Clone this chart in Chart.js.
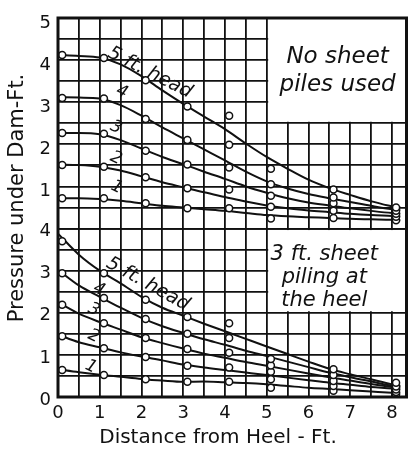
<!DOCTYPE html>
<html>
<head>
<meta charset="utf-8">
<script src="https://cdn.jsdelivr.net/npm/chart.js@4.4.1/dist/chart.umd.min.js"></script>
<style>
  html, body { margin: 0; padding: 0; background: #fff; }
</style>
</head>
<body>
<canvas id="myChart" width="412" height="451"></canvas>
<script>
// distances from heel where the readings were plotted (ft)
let pointX = [0.1, 1.1, 2.1, 3.1, 4.1, 5.1, 6.6, 8.1];
// distances used to trace the faired curves
let curveX = [0, 0.5, 1, 1.5, 2, 2.5, 3, 3.5, 4, 4.5, 5, 5.5, 6, 6.5, 7, 7.5, 8, 8.2];

// tick labels
let xLabels = [0, 1, 2, 3, 4, 5, 6, 7, 8];
let yTopLabels = [1, 2, 3, 4, 5];
let yBotLabels = [0, 1, 2, 3, 4];

// no sheet piles used - readings
let topPts5 = [4.12, 4.05, 3.52, 2.9, 2.68, 1.42, 0.93, 0.5];
let topPts4 = [3.1, 3.09, 2.6, 2.1, 1.99, 1.05, 0.74, 0.42];
let topPts3 = [2.27, 2.25, 1.85, 1.52, 1.45, 0.78, 0.6, 0.35];
let topPts2 = [1.51, 1.47, 1.22, 0.96, 0.93, 0.52, 0.42, 0.28];
let topPts1 = [0.72, 0.72, 0.6, 0.48, 0.48, 0.24, 0.25, 0.2];
// no sheet piles used - curves
let topCurve5 = [4.12, 4.1, 4.06, 3.9, 3.62, 3.28, 2.96, 2.66, 2.36, 2.02, 1.7, 1.42, 1.16, 0.96, 0.8, 0.65, 0.53, 0.51];
let topCurve4 = [3.12, 3.11, 3.09, 2.93, 2.68, 2.4, 2.14, 1.88, 1.62, 1.35, 1.12, 0.95, 0.82, 0.72, 0.63, 0.54, 0.46, 0.44];
let topCurve3 = [2.27, 2.27, 2.24, 2.1, 1.9, 1.7, 1.53, 1.35, 1.18, 1.0, 0.85, 0.72, 0.62, 0.55, 0.48, 0.42, 0.37, 0.36];
let topCurve2 = [1.52, 1.51, 1.47, 1.38, 1.24, 1.1, 0.98, 0.86, 0.75, 0.64, 0.55, 0.48, 0.43, 0.39, 0.35, 0.32, 0.3, 0.29];
let topCurve1 = [0.72, 0.72, 0.7, 0.66, 0.6, 0.54, 0.5, 0.46, 0.42, 0.37, 0.32, 0.29, 0.27, 0.25, 0.23, 0.22, 0.21, 0.2];

// 3 ft sheet piling at the heel - readings
let botPts5 = [3.7, 2.94, 2.31, 1.9, 1.75, 0.9, 0.66, 0.34];
let botPts4 = [2.94, 2.35, 1.85, 1.5, 1.4, 0.75, 0.52, 0.25];
let botPts3 = [2.19, 1.75, 1.4, 1.14, 1.05, 0.6, 0.38, 0.18];
let botPts2 = [1.44, 1.16, 0.95, 0.74, 0.7, 0.42, 0.26, 0.12];
let botPts1 = [0.64, 0.52, 0.42, 0.36, 0.36, 0.22, 0.15, 0.06];
// 3 ft sheet piling at the heel - curves
let botCurve5 = [3.88, 3.38, 3.0, 2.7, 2.38, 2.12, 1.93, 1.74, 1.56, 1.38, 1.2, 1.02, 0.84, 0.67, 0.54, 0.42, 0.3, 0.27];
let botCurve4 = [3.02, 2.65, 2.38, 2.12, 1.88, 1.68, 1.52, 1.37, 1.24, 1.1, 0.97, 0.84, 0.71, 0.58, 0.47, 0.37, 0.27, 0.25];
let botCurve3 = [2.25, 1.98, 1.78, 1.6, 1.42, 1.28, 1.15, 1.03, 0.93, 0.83, 0.74, 0.65, 0.56, 0.47, 0.39, 0.31, 0.24, 0.22];
let botCurve2 = [1.48, 1.3, 1.18, 1.06, 0.96, 0.87, 0.77, 0.7, 0.64, 0.58, 0.52, 0.46, 0.4, 0.34, 0.29, 0.24, 0.2, 0.18];
let botCurve1 = [0.66, 0.59, 0.53, 0.48, 0.43, 0.39, 0.36, 0.37, 0.35, 0.33, 0.3, 0.26, 0.22, 0.19, 0.16, 0.13, 0.1, 0.09];

// hand lettering on the curves: [text, axis, x, y, angle, size]
let curveNotes = [
  ['5 ft. head', 'yTop', 2.2, 3.7, 27, 19],
  ['4', 'yTop', 1.53, 3.24, 25, 17],
  ['3', 'yTop', 1.39, 2.4, 25, 17],
  ['2', 'yTop', 1.39, 1.67, 25, 17],
  ['1', 'yTop', 1.41, 0.98, 25, 17],
  ['5 ft. head', 'yBot', 2.15, 2.68, 29, 19],
  ['4', 'yBot', 0.98, 2.55, 25, 17],
  ['3', 'yBot', 0.86, 2.07, 25, 17],
  ['2', 'yBot', 0.86, 1.44, 25, 17],
  ['1', 'yBot', 0.79, 0.72, 25, 17]
];

let ink = '#111';
let font = "'DejaVu Sans', sans-serif";
Chart.defaults.font.family = font;
Chart.defaults.color = ink;

function pts(xs, ys) {
  return xs.map((x, i) => ({x: x, y: ys[i]}));
}

function readings(ys, axis) {
  return {
    data: pts(pointX, ys), yAxisID: axis, showLine: false, order: 0,
    pointRadius: 3.5, pointBorderWidth: 1.5,
    pointBackgroundColor: '#fff', pointBorderColor: ink
  };
}

function curve(ys, axis) {
  return {
    data: pts(curveX, ys), yAxisID: axis, showLine: true, order: 1,
    borderColor: ink, borderWidth: 2, pointRadius: 0,
    cubicInterpolationMode: 'monotone'
  };
}

function halfSteps(lo, hi) {
  let out = [];
  for (let v = lo; v <= hi + 1e-9; v += 0.5) out.push({value: v});
  return out;
}

let gridStyle = {color: ink, lineWidth: 1.8, drawTicks: false};

let decorations = {
  id: 'decorations',
  beforeDatasetsDraw(chart) {
    let ctx = chart.ctx, area = chart.chartArea;
    let x = chart.scales.x, yt = chart.scales.yTop, yb = chart.scales.yBot;
    ctx.save();
    ctx.fillStyle = '#fff';
    let l = x.getPixelForValue(5) + 1.5;
    ctx.fillRect(l, area.top, area.right - l, yt.getPixelForValue(2.5) - 1.5 - area.top);
    let t = yb.getPixelForValue(4) + 1.5;
    ctx.fillRect(l, t, area.right - l, yb.getPixelForValue(2) - 1.5 - t);

    ctx.fillStyle = ink;
    ctx.textAlign = 'center';
    ctx.textBaseline = 'alphabetic';
    ctx.font = 'italic 23px ' + font;
    let cx = x.getPixelForValue(6.7);
    ctx.fillText('No sheet', cx, yt.getPixelForValue(3.93));
    ctx.fillText('piles used', cx, yt.getPixelForValue(3.26));
    ctx.font = 'italic 21px ' + font;
    cx = x.getPixelForValue(6.38);
    ctx.fillText('3 ft. sheet', cx, yb.getPixelForValue(3.26));
    ctx.fillText('piling at', cx, yb.getPixelForValue(2.71));
    ctx.fillText('the heel', cx, yb.getPixelForValue(2.17));
    ctx.restore();
  },
  afterDraw(chart) {
    let ctx = chart.ctx, area = chart.chartArea;
    let x = chart.scales.x;
    ctx.save();
    ctx.strokeStyle = ink;
    ctx.lineWidth = 3;
    ctx.strokeRect(area.left, area.top, area.right - area.left, area.bottom - area.top);

    ctx.fillStyle = ink;
    ctx.textAlign = 'center';
    ctx.textBaseline = 'middle';
    curveNotes.forEach(n => {
      let px = x.getPixelForValue(n[2]);
      let py = chart.scales[n[1]].getPixelForValue(n[3]);
      ctx.save();
      ctx.translate(px, py);
      ctx.rotate(n[4] * Math.PI / 180);
      ctx.font = 'italic ' + n[5] + 'px ' + font;
      ctx.fillText(n[0], 0, 0);
      ctx.restore();
    });

    ctx.font = '20px ' + font;
    ctx.fillText('Distance from Heel - Ft.', 218, 438);
    ctx.translate(18, 198);
    ctx.rotate(-Math.PI / 2);
    ctx.font = '21px ' + font;
    ctx.fillText('Pressure under Dam-Ft.', 0, 0);
    ctx.restore();
  }
};

let ctx = document.getElementById('myChart');
let myChart = new Chart(ctx, {
  type: 'scatter',
  data: {
    datasets: [
      readings(topPts5, 'yTop'), readings(topPts4, 'yTop'), readings(topPts3, 'yTop'),
      readings(topPts2, 'yTop'), readings(topPts1, 'yTop'),
      readings(botPts5, 'yBot'), readings(botPts4, 'yBot'), readings(botPts3, 'yBot'),
      readings(botPts2, 'yBot'), readings(botPts1, 'yBot'),
      curve(topCurve5, 'yTop'), curve(topCurve4, 'yTop'), curve(topCurve3, 'yTop'),
      curve(topCurve2, 'yTop'), curve(topCurve1, 'yTop'),
      curve(botCurve5, 'yBot'), curve(botCurve4, 'yBot'), curve(botCurve3, 'yBot'),
      curve(botCurve2, 'yBot'), curve(botCurve1, 'yBot')
    ]
  },
  options: {
    responsive: false,
    animation: false,
    layout: {padding: {top: 18, right: 1, left: 0, bottom: 0}},
    plugins: {legend: {display: false}, tooltip: {enabled: false}},
    scales: {
      x: {
        type: 'linear', min: 0, max: 8.35,
        afterBuildTicks: s => { s.ticks = halfSteps(0, 8); },
        afterFit: s => { s.height = 54; },
        ticks: {
          autoSkip: false, maxRotation: 0, padding: 6,
          font: {size: 18},
          callback: v => xLabels.includes(v) ? v : ''
        },
        grid: gridStyle,
        border: {display: false}
      },
      yTop: {
        type: 'linear', position: 'left', stack: 'panels', stackWeight: 5, weight: 2,
        min: 0, max: 5,
        afterBuildTicks: s => { s.ticks = halfSteps(0, 5); },
        afterFit: s => { s.width = 58; },
        ticks: {
          autoSkip: false, padding: 7, labelOffset: 5,
          font: {size: 18},
          callback: v => yTopLabels.includes(v) ? v : ''
        },
        grid: gridStyle,
        border: {display: false}
      },
      yBot: {
        type: 'linear', position: 'left', stack: 'panels', stackWeight: 4, weight: 1,
        min: 0, max: 4,
        afterBuildTicks: s => { s.ticks = halfSteps(0, 4); },
        afterFit: s => { s.width = 58; },
        ticks: {
          autoSkip: false, padding: 7, labelOffset: 3,
          font: {size: 18},
          callback: v => yBotLabels.includes(v) ? v : ''
        },
        grid: gridStyle,
        border: {display: false}
      }
    }
  },
  plugins: [decorations]
});
</script>
</body>
</html>
